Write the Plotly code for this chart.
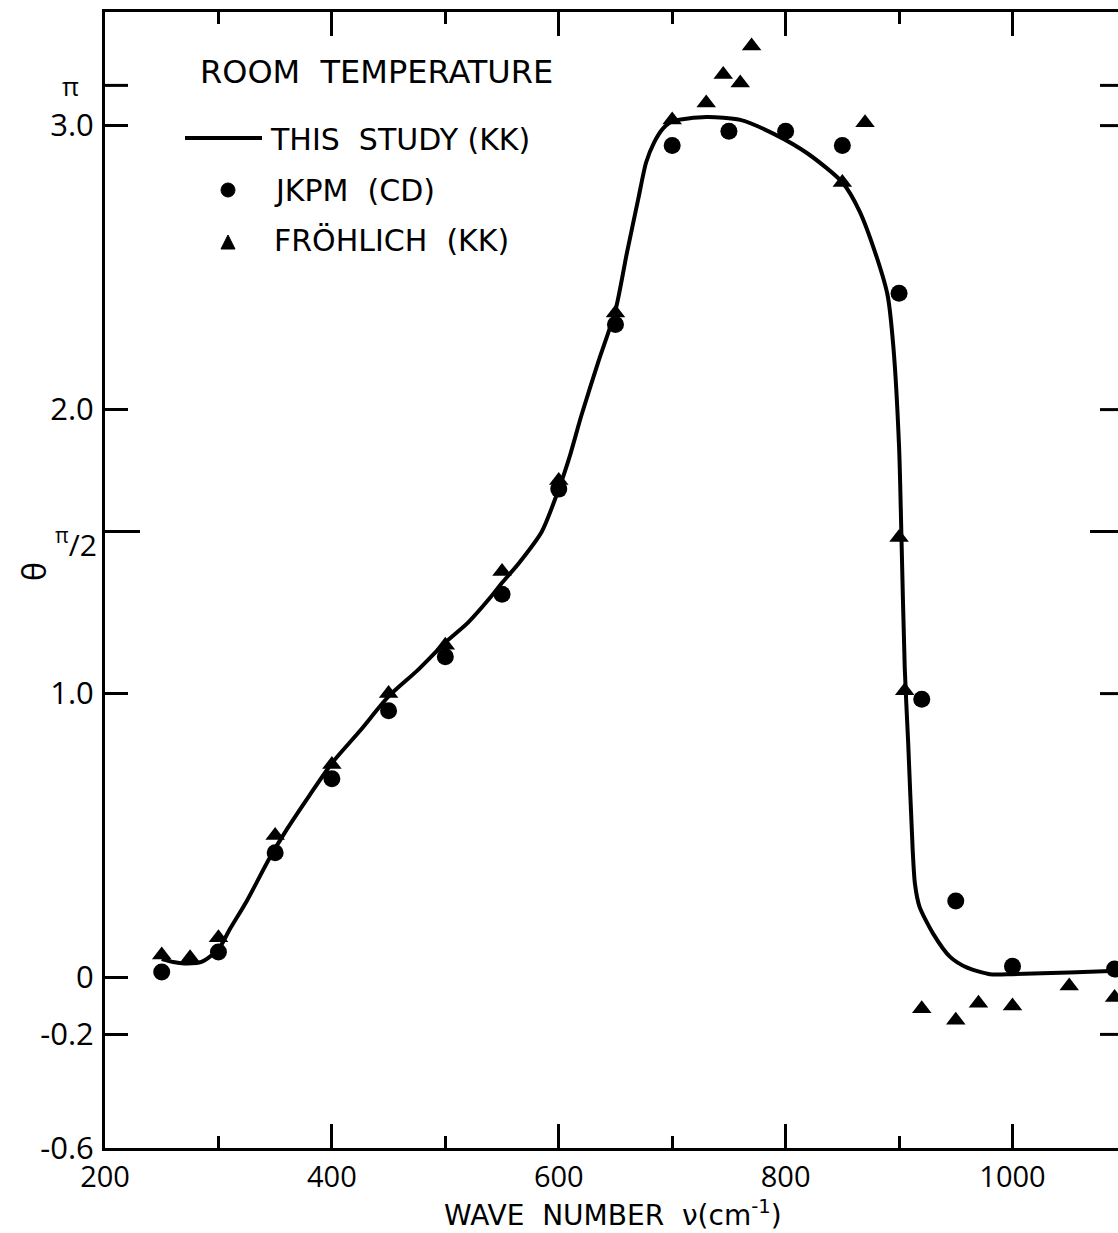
import math
import plotly.graph_objects as go

# ---- data ----
kk_x = [250, 260, 270, 285, 300, 310, 325, 345, 360, 380, 400, 425, 450, 475, 500, 520, 540,
        550, 565, 585, 600, 610, 620, 635, 650, 660, 670, 677, 684, 692, 700, 730, 760, 790,
        820, 850, 865, 880, 890, 895, 900, 902, 905, 908, 912, 914, 918, 930, 945, 960, 980,
        1000, 1050, 1100]
kk_y = [0.065, 0.055, 0.05, 0.055, 0.10, 0.17, 0.27, 0.42, 0.52, 0.64, 0.755, 0.87, 0.99,
        1.08, 1.18, 1.25, 1.34, 1.39, 1.46, 1.57, 1.72, 1.84, 1.98, 2.17, 2.35, 2.55, 2.74,
        2.87, 2.94, 2.99, 3.015, 3.03, 3.02, 2.97, 2.90, 2.80, 2.70, 2.54, 2.40, 2.22, 1.87,
        1.57, 1.09, 0.83, 0.45, 0.33, 0.25, 0.155, 0.073, 0.035, 0.012, 0.012, 0.018, 0.025]

jkpm_x = [250, 300, 350, 400, 450, 500, 550, 600, 650, 700, 750, 800, 850, 900, 920, 950,
          1000, 1090]
jkpm_y = [0.02, 0.09, 0.44, 0.70, 0.94, 1.13, 1.35, 1.72, 2.30, 2.93, 2.98, 2.98, 2.93, 2.41,
          0.98, 0.27, 0.04, 0.03]

fro_x = [250, 275, 300, 350, 400, 450, 500, 550, 600, 650, 700, 730, 745, 760, 770, 850, 870,
         900, 905, 920, 950, 970, 1000, 1050, 1090]
fro_y = [0.08, 0.07, 0.14, 0.50, 0.75, 1.00, 1.17, 1.43, 1.75, 2.34, 3.02, 3.08, 3.18, 3.15,
         3.28, 2.80, 3.01, 1.55, 1.01, -0.11, -0.15, -0.09, -0.10, -0.03, -0.07]

y_tickvals = [-0.6, -0.2, 0, 1.0, 2.0, 3.0]
y_ticktext = ["-0.6", "-0.2", "0", "1.0", "2.0", "3.0"]
left_extra_ticks = [math.pi, math.pi / 2]
right_ticks = [math.pi, 3.0, 2.0, math.pi / 2, 1.0, -0.2]
x_major = [200, 400, 600, 800, 1000]
x_minor = [300, 500, 700, 900]

legend_labels = ["THIS  STUDY (KK)", "JKPM  (CD)", "FRÖHLICH  (KK)"]

# ---- layout geometry ----
W, H = 1118, 1233
ML, MR, MT, MB = 105, 0, 12, 85
PW, PH = W - ML - MR, H - MT - MB
FONT = "Open Sans"
LFONT = "DejaVu Sans"


def px(xp):
    return (xp - ML) / PW


def py(yp):
    return (H - MB - yp) / PH


fig = go.Figure()
fig.add_trace(go.Scatter(x=kk_x, y=kk_y, mode="lines",
                         line=dict(color="black", width=4, shape="spline", smoothing=0.7),
                         name="THIS STUDY (KK)", showlegend=False))
fig.add_trace(go.Scatter(x=jkpm_x, y=jkpm_y, mode="markers", cliponaxis=False,
                         marker=dict(symbol="circle", size=17, color="black"),
                         name="JKPM (CD)", showlegend=False))
fig.add_trace(go.Scatter(x=fro_x, y=fro_y, mode="markers", cliponaxis=False,
                         marker=dict(symbol="triangle-up", size=17, color="black"),
                         name="FRÖHLICH (KK)", showlegend=False))

shapes = []
# pi and pi/2 ticks on the left
for v in left_extra_ticks:
    ln = 35 if abs(v - math.pi / 2) < 1e-9 else 23
    shapes.append(dict(type="line", xref="paper", yref="y", x0=0, x1=ln / PW,
                       y0=v, y1=v, line=dict(color="black", width=3)))
# ticks on the right edge
for v in right_ticks:
    ln = 28 if abs(v - math.pi / 2) < 1e-9 else 18
    shapes.append(dict(type="line", xref="paper", yref="y", x0=1 - ln / PW, x1=1,
                       y0=v, y1=v, line=dict(color="black", width=3)))
# legend symbols
shapes.append(dict(type="line", xref="paper", yref="paper", x0=px(185), x1=px(262),
                   y0=py(138), y1=py(138), line=dict(color="black", width=4)))
shapes.append(dict(type="circle", xref="paper", yref="paper", x0=px(221), x1=px(235),
                   y0=py(197), y1=py(183), fillcolor="black", line=dict(color="black", width=1)))
shapes.append(dict(type="path", xref="paper", yref="paper",
                   path=f"M {px(221)} {py(249)} L {px(235)} {py(249)} L {px(228)} {py(235)} Z",
                   fillcolor="black", line=dict(color="black", width=1)))

annotations = []


def ann(text, xp, yp, size=30, xanchor="left", yanchor="middle", angle=0, family=LFONT):
    annotations.append(dict(text=text, xref="paper", yref="paper", x=px(xp), y=py(yp),
                            xanchor=xanchor, yanchor=yanchor, showarrow=False,
                            textangle=angle, font=dict(family=family, size=size, color="black")))


ann("ROOM  TEMPERATURE", 198, 72, size=32)
ann(legend_labels[0], 268, 140, size=30)
ann(legend_labels[1], 272, 191, size=30)
ann(legend_labels[2], 272, 241, size=30)
ann("π", 70, 86, size=26, xanchor="center", family=FONT)
ann("<sup>π</sup>/2", 76, 543, size=30, xanchor="center", family=FONT)
ann("θ", 33, 572, size=32, xanchor="center", angle=-90, family=FONT)
ann("WAVE  NUMBER  ν(cm<sup>-1</sup>)", 613, 1213, size=28, xanchor="center")

fig.update_layout(
    width=W, height=H, margin=dict(l=ML, r=MR, t=MT, b=MB),
    paper_bgcolor="white", plot_bgcolor="white", showlegend=False,
    font=dict(family=FONT, color="black"),
    shapes=shapes, annotations=annotations,
    xaxis=dict(range=[200, 1093], tickvals=x_major, ticktext=[str(v) for v in x_major],
               ticks="inside", ticklen=24, tickwidth=3, tickcolor="black",
               minor=dict(tickvals=x_minor, ticks="inside", ticklen=12, tickwidth=3,
                          tickcolor="black"),
               showline=True, linewidth=3, linecolor="black", mirror="allticks",
               showgrid=False, zeroline=False, tickfont=dict(size=29, family=FONT),
               ticklabelstandoff=1),
    yaxis=dict(range=[-0.6, 3.40], tickvals=y_tickvals, ticktext=y_ticktext,
               ticks="inside", ticklen=23, tickwidth=3, tickcolor="black",
               showline=True, linewidth=3, linecolor="black", mirror=False,
               showgrid=False, zeroline=False, tickfont=dict(size=31, family=FONT),
               ticklabelstandoff=2),
)

fig.write_html("out.html")
